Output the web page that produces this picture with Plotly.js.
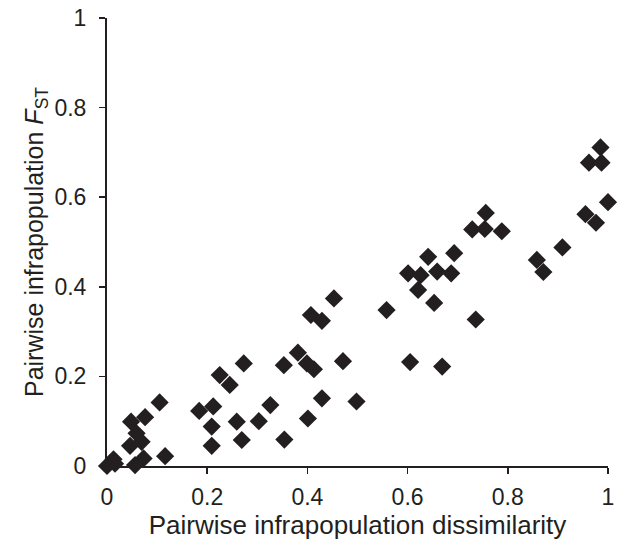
<!DOCTYPE html>
<html>
<head>
<meta charset="utf-8">
<script src="https://cdn.plot.ly/plotly-3.0.1.min.js"></script>
<style>html,body{margin:0;padding:0;background:#fff;}#chart{width:622px;height:544px;}</style>
</head>
<body>
<div id="chart"></div>
<script>
const dissimilarity = [
  0.000, 0.013, 0.016, 0.046, 0.048, 0.059, 0.069, 0.076, 0.056, 0.073, 0.105, 0.116,
  0.184, 0.212, 0.209, 0.209, 0.225, 0.245, 0.273, 0.259, 0.303, 0.326, 0.269, 0.353, 0.354,
  0.381, 0.399, 0.413, 0.407, 0.429, 0.453, 0.471, 0.429, 0.498, 0.401,
  0.558, 0.605, 0.669, 0.601, 0.626, 0.659, 0.687, 0.621, 0.653, 0.641, 0.693, 0.736,
  0.729, 0.754, 0.756, 0.788, 0.858, 0.871, 0.909, 0.955, 0.976, 1.000, 0.962, 0.987, 0.985
];
const fst = [
  0.000, 0.015, 0.005, 0.045, 0.099, 0.073, 0.054, 0.109, 0.002, 0.017, 0.142, 0.022,
  0.123, 0.133, 0.088, 0.045, 0.203, 0.181, 0.229, 0.099, 0.100, 0.136, 0.058, 0.225, 0.059,
  0.253, 0.229, 0.216, 0.337, 0.324, 0.374, 0.234, 0.151, 0.144, 0.106,
  0.348, 0.232, 0.222, 0.430, 0.426, 0.434, 0.430, 0.393, 0.364, 0.467, 0.475, 0.327,
  0.528, 0.529, 0.565, 0.524, 0.460, 0.433, 0.488, 0.562, 0.543, 0.589, 0.677, 0.677, 0.711
];
const tickVals = [0, 0.2, 0.4, 0.6, 0.8, 1];
const tickText = ['0', '0.2', '0.4', '0.6', '0.8', '1'];

const font = 'Liberation Sans, Arial, sans-serif';
const trace = {
  x: dissimilarity, y: fst, type: 'scatter', mode: 'markers',
  cliponaxis: false,
  marker: {symbol: 'diamond', size: 14, color: '#231f20', line: {width: 0}}
};
const axisCommon = {
  range: [0, 1], tickvals: tickVals, ticktext: tickText,
  showgrid: false, zeroline: false, showline: true, linecolor: '#231f20', linewidth: 2,
  ticks: 'outside', ticklen: 6, tickwidth: 1.5, tickcolor: '#231f20',
  tickfont: {family: font, size: 23, color: '#231f20'}
};
const layout = {
  width: 622, height: 544,
  margin: {l: 107, r: 14, t: 18, b: 78},
  paper_bgcolor: '#fff', plot_bgcolor: '#fff',
  showlegend: false,
  xaxis: Object.assign({}, axisCommon, {
    ticklabelstandoff: 3,
    title: {text: 'Pairwise infrapopulation dissimilarity', font: {family: font, size: 26, color: '#231f20'}, standoff: 6}
  }),
  yaxis: Object.assign({}, axisCommon, {
    ticklabelstandoff: 8,
    title: {text: 'Pairwise infrapopulation <i>F</i><sub>ST</sub>', font: {family: font, size: 25, color: '#231f20'}, standoff: 4}
  })
};
Plotly.newPlot('chart', [trace], layout, {displayModeBar: false, staticPlot: true});
</script>
</body>
</html>
